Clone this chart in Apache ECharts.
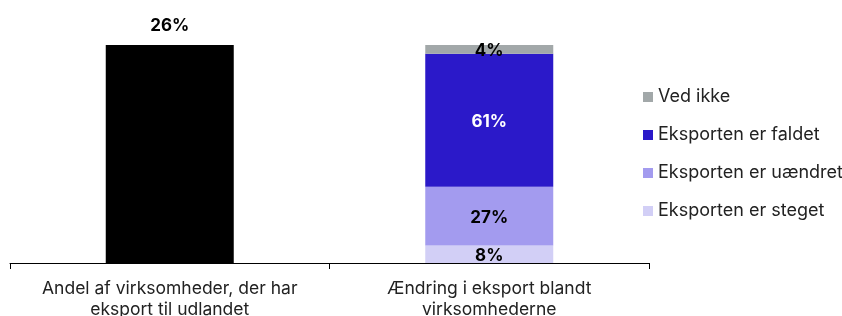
<!DOCTYPE html>
<html>
<head>
<meta charset="utf-8">
<script src="https://cdn.jsdelivr.net/npm/echarts@6/dist/echarts.min.js"></script>
<style>
  html, body { margin: 0; padding: 0; background: #fff; }
  #chart { width: 842px; height: 316px; }
</style>
</head>
<body>
<div id="chart"></div>
<script>
// kategorier på x-aksen
const categories = ['Andel af virksomheder, der har\neksport til udlandet', 'Ændring i eksport blandt\nvirksomhederne'];

// første søjle: andel med eksport (egen skala, fylder hele højden)
const shareExport = [26, '-'];

// stablet søjle: ændring i eksport
const steget = ['-', 8];
const uaendret = ['-', 27];
const faldet = ['-', 61];
const vedIkke = ['-', 4];

const legendOrder = ['Ved ikke', 'Eksporten er faldet', 'Eksporten er uændret', 'Eksporten er steget'];

const font = 'Inter, "Noto Sans", sans-serif';
const myChart = echarts.init(document.getElementById('chart'));

const pct = p => `${p.value}%`;

const stackSeries = (name, data, color, labelColor) => ({
  name,
  type: 'bar',
  stack: 'eksport',
  yAxisIndex: 0,
  barWidth: 128,
  barGap: '-100%',
  data,
  itemStyle: { color },
  label: {
    show: true,
    position: 'inside',
    offset: [0, 2],
    color: labelColor,
    fontFamily: font,
    fontWeight: 'bold',
    fontSize: 17,
    formatter: pct,
  },
});

const option = {
  animation: false,
  textStyle: { fontFamily: font },
  grid: { left: 10, right: 193, top: 45, bottom: 53, containLabel: false, outerBoundsMode: 'none' },
  legend: {
    data: legendOrder,
    orient: 'vertical',
    left: 643,
    top: 88,
    padding: 0,
    itemWidth: 10,
    itemHeight: 10,
    itemGap: 20,
    icon: 'rect',
    textStyle: { fontFamily: font, fontSize: 18, lineHeight: 18, color: '#222' },
  },
  xAxis: {
    type: 'category',
    data: categories,
    axisLine: { lineStyle: { color: '#000', width: 1 } },
    axisTick: { show: true, length: 6, lineStyle: { color: '#000' } },
    axisLabel: {
      interval: 0,
      color: '#222',
      fontFamily: font,
      fontSize: 17.5,
      lineHeight: 21,
      margin: 15,
    },
  },
  yAxis: [
    { type: 'value', min: 0, max: 100, show: false },
    { type: 'value', min: 0, max: 26, show: false },
  ],
  series: [
    {
      name: 'Andel',
      type: 'bar',
      yAxisIndex: 1,
      barWidth: 128,
      barGap: '-100%',
      data: shareExport,
      itemStyle: { color: '#000' },
      label: {
        show: true,
        position: 'top',
        distance: 11,
        color: '#000',
        fontFamily: font,
        fontWeight: 'bold',
        fontSize: 17,
        formatter: pct,
      },
    },
    stackSeries('Eksporten er steget', steget, '#d2cff6', '#000'),
    stackSeries('Eksporten er uændret', uaendret, '#a39bef', '#000'),
    stackSeries('Eksporten er faldet', faldet, '#2b19c9', '#fff'),
    stackSeries('Ved ikke', vedIkke, '#a2a8a9', '#000'),
  ],
};

myChart.setOption(option);
</script>
</body>
</html>
